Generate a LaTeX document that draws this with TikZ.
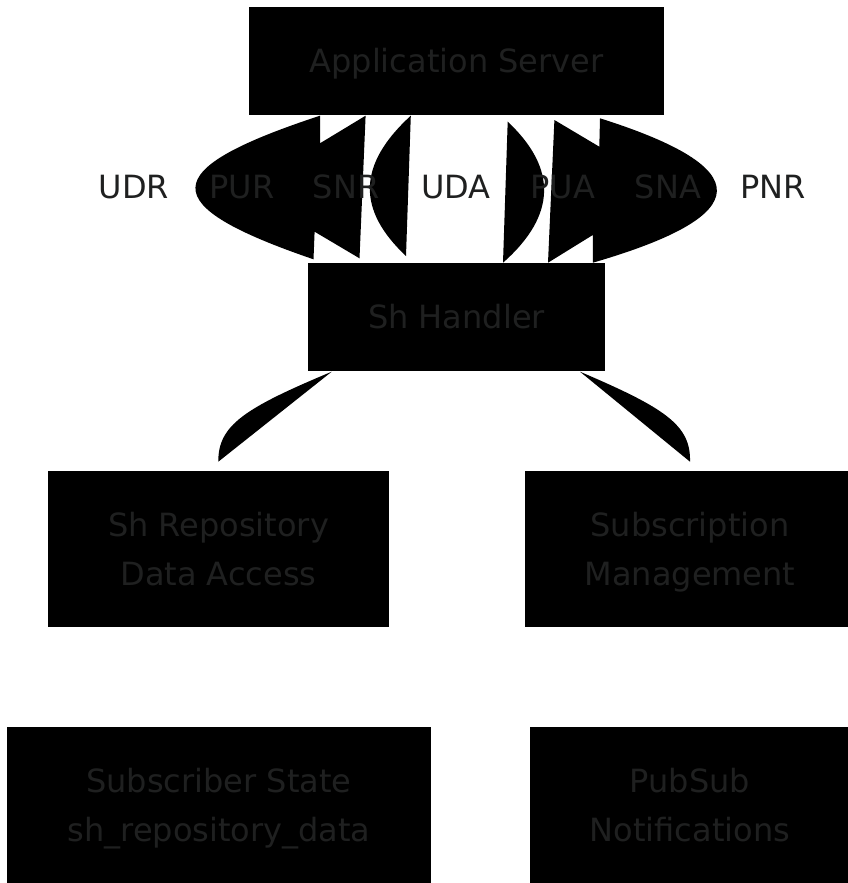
\documentclass[tikz,border=0pt]{standalone}
\usepackage{fontspec}
\setmainfont{DejaVu Sans}
\definecolor{txt}{HTML}{1F2020}
\newcommand\lnst{\rule[-12.8pt]{0pt}{49pt}}
\begin{document}
\begin{tikzpicture}[x=1pt,y=-1pt,
  box/.style={fill=black, draw=none, inner sep=0pt, align=center, text=txt, font=\fontsize{32}{49}\selectfont},
  lbl/.style={inner sep=0pt, text=txt, font=\fontsize{32}{38}\selectfont},
  edgefill/.style={fill=black, draw=none}]
\useasboundingbox (0,0) rectangle (847,883);

% boxes
\node[box, minimum width=415, minimum height=108] (as) at (456.5,61) {\lnst Application Server};
\node[box, minimum width=297, minimum height=108] (sh) at (456.5,317) {\lnst Sh Handler};
\node[box, minimum width=341, minimum height=156] (repo) at (218.5,549) {\lnst Sh Repository\\\lnst Data Access};
\node[box, minimum width=330, minimum height=156] (sub) at (690,549) {\lnst Subscription\\\lnst Management};
\node[box, minimum width=424, minimum height=156] (state) at (219,805) {\lnst Subscriber State\\\lnst sh\_repository\_data};
\node[box, minimum width=320, minimum height=156] (pubsub) at (690,805) {\lnst PubSub\\\lnst Notifications};

% connector end points
\coordinate (a1) at (320,115.7);
\coordinate (a2) at (313.5,259.3);
\coordinate (c1) at (410.8,115.7);
\coordinate (c2) at (406,256);
\coordinate (d1) at (507.7,121.7);
\coordinate (d2) at (503,262.7);
\coordinate (f1) at (600,118.3);
\coordinate (f2) at (592.8,262.7);
\coordinate (l1) at (331.7,371.7);
\coordinate (l2) at (218.3,461.7);
\coordinate (r1) at (580,371.7);
\coordinate (r2) at (690,461.7);

% filled connectors
\fill[edgefill] (a1) .. controls (155,170) and (155,205) .. (a2)
   -- (314.6,231.7) -- (359.5,258.3) -- (365.6,115.7) -- (320,143.3) -- cycle;
\fill[edgefill] (c1) .. controls (357,165) and (357,210) .. (c2) -- cycle;
\fill[edgefill] (d1) .. controls (557,168) and (557,215) .. (d2) -- cycle;
\fill[edgefill] (554.4,120) -- (599.3,146.7) -- (f1) .. controls (757,168) and (757,215) .. (f2)
   -- (592.8,235) -- (548,262.7) -- cycle;
\fill[edgefill] (l1) .. controls (245,408) and (218,425) .. (l2) -- cycle;
\fill[edgefill] (r1) .. controls (665,408) and (691,425) .. (r2) -- cycle;

% labels
\node[lbl] (udr) at (134,187) {UDR};
\node[lbl] (pur) at (242,187) {PUR};
\node[lbl] (snr) at (346,187) {SNR};
\node[lbl] (uda) at (456,187) {UDA};
\node[lbl] (pua) at (563,187) {PUA};
\node[lbl] (sna) at (668,187) {SNA};
\node[lbl] (pnr) at (773,187) {PNR};
\end{tikzpicture}
\end{document}
